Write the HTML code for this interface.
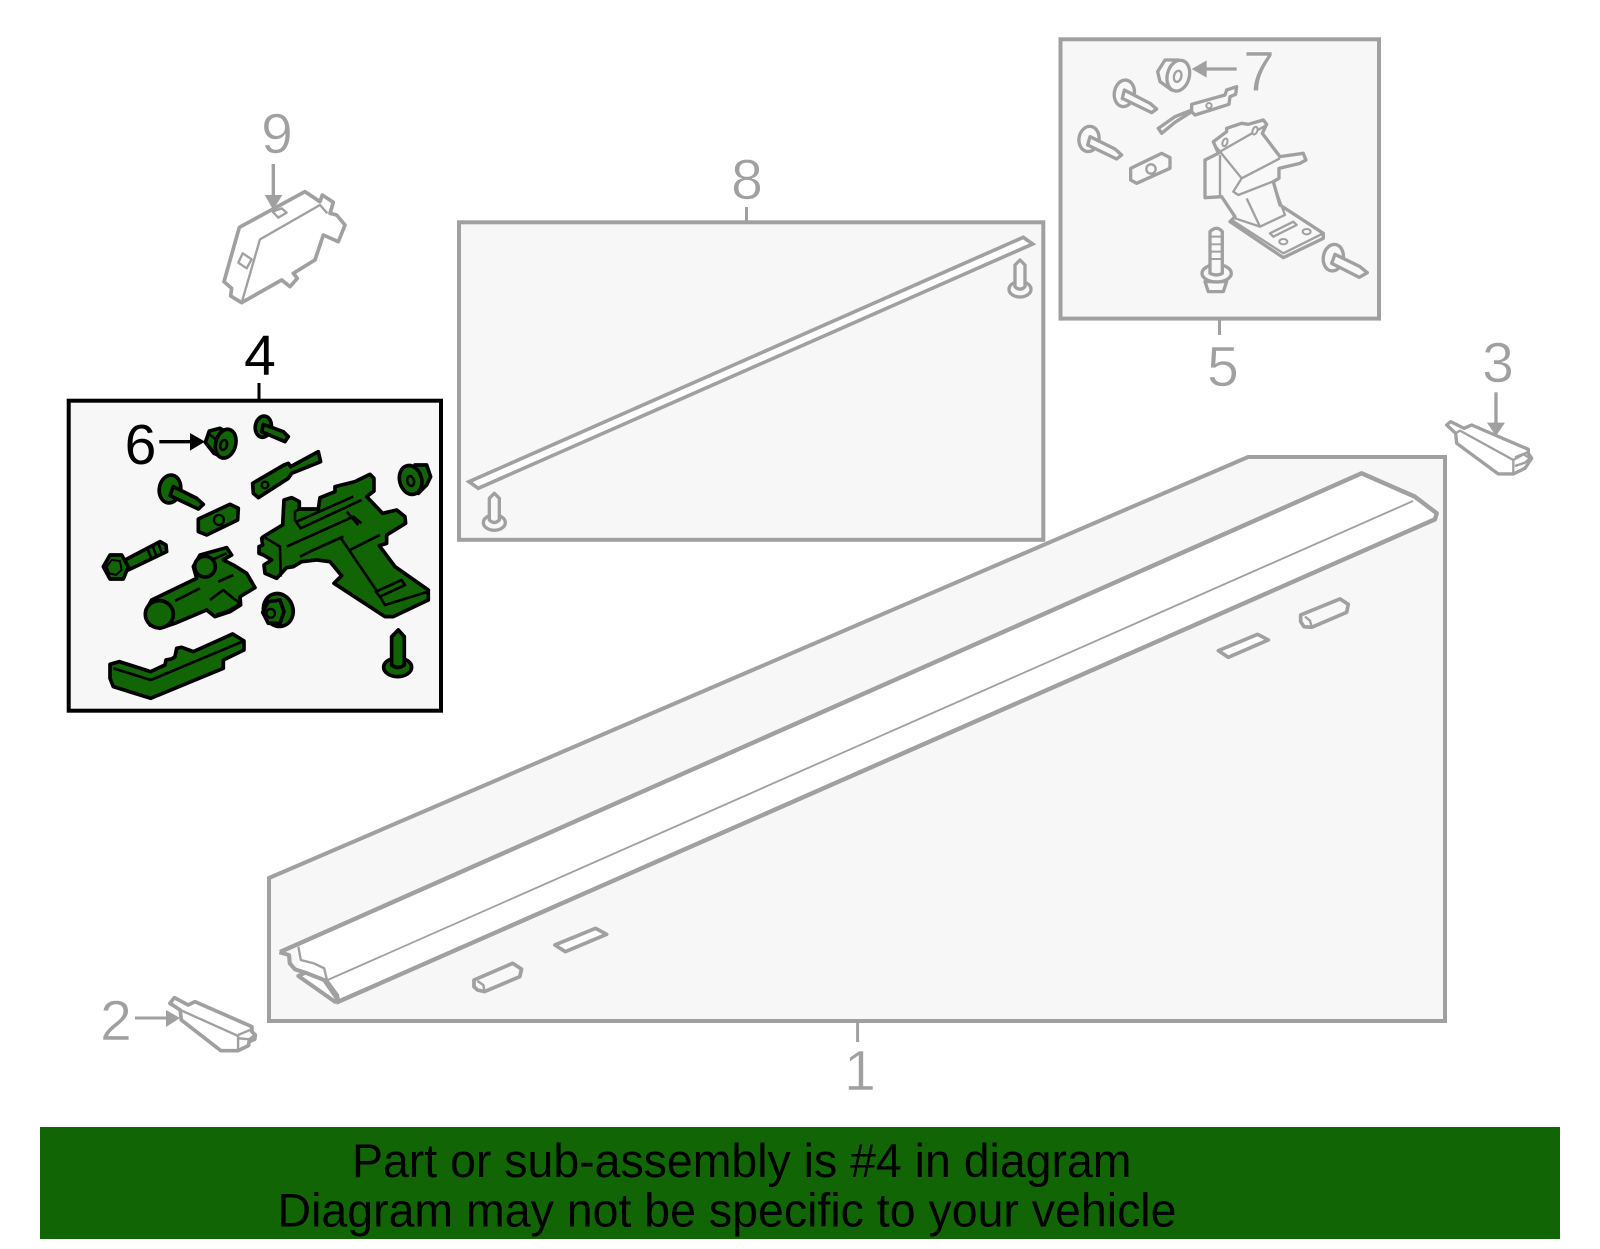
<!DOCTYPE html>
<html>
<head>
<meta charset="utf-8">
<style>
html,body{margin:0;padding:0;background:#fff;width:1600px;height:1249px;overflow:hidden}
svg{display:block}
text{font-family:"Liberation Sans",sans-serif}
.n{font-size:57px;fill:#a0a0a0;text-anchor:middle;stroke:#fff;stroke-width:.6}
.g{fill:#f8f8f8;stroke:#a0a0a0;stroke-width:10;stroke-linejoin:round}
.g .l{fill:none}
.k{fill:#126505;stroke:#000;stroke-width:11;stroke-linejoin:round}
.k .l{fill:none;stroke-width:8}
.w{fill:#fff}
</style>
</head>
<body>
<svg width="1600" height="1249" viewBox="0 0 1600 1249" xmlns="http://www.w3.org/2000/svg">
<rect width="1600" height="1249" fill="#fff"/>

<!-- Box 1 -->
<polygon points="269,878 1248,457 1445,457 1445,1021 269,1021" fill="#f7f7f7" stroke="#a0a0a0" stroke-width="4"/>
<line x1="857.6" y1="1021" x2="857.6" y2="1042" stroke="#a0a0a0" stroke-width="3"/>
<text class="n" x="860" y="1090">1</text>

<!-- Rail -->
<polygon points="296,946 1361.7,473.3 1415,496.7 1436.7,513.3 1435,519.3 336,1002.7 300,975" fill="#fff"/>
<polyline points="280,952 1361.7,473.3 1415,496.7 1436.7,513.3 1435,519.3 336,1002.7" fill="none" stroke="#a0a0a0" stroke-width="4.4" stroke-linejoin="round"/>
<line x1="327.6" y1="980" x2="1413" y2="501" stroke="#a0a0a0" stroke-width="1.8"/>
<g transform="translate(90,900) scale(.3444,.3333)">
 <g class="g" fill="none" style="fill:none">
  <polyline points="550,157 578,165 580,190 595,208 625,218 680,240 720,300" stroke-width="12"/>
  <polyline points="625,218 605,228 715,308" stroke-width="12"/>
  <polyline points="605,140 612,180 650,190 680,205 688,240 720,285 722,300" stroke-width="7"/>
  <path d="M1115,240 L1227,190 L1253,207 L1248,230 L1145,275 L1125,270 L1115,260 Z" style="fill:#f8f8f8" stroke-width="11"/>
  <polyline points="1125,243 1142,255 1145,272" stroke-width="7"/>
  <path d="M1350,135 L1468,85 L1500,103 L1380,155 Z" style="fill:#fff" stroke-width="11"/>
 </g>
 <!-- Part 2 -->
 <g class="g" style="fill:#fff">
  <path d="M232,310 L245,293 L285,315 L305,305 L470,380 L470,395 L480,405 L478,418 L462,425 L460,437 L430,452 L380,452 L265,360 L262,330 Z" stroke-width="11"/>
  <path class="l" d="M262,330 L430,408 L430,450 M430,405 L465,390 L478,405 L462,418 L432,415" stroke-width="7"/>
 </g>
</g>
<g transform="translate(1180,400) scale(.3333)">
 <g class="g">
  <path d="M362,645 L480,597 L505,613 L500,637 L395,682 L372,680 L362,665 Z" stroke-width="11"/>
  <polyline class="l" points="375,650 390,662 395,680" stroke-width="7"/>
  <path d="M115,752 L233,703 L265,720 L145,772 Z" style="fill:#fff" stroke-width="11"/>
 </g>
</g>
<!-- label 2 -->
<text class="n" x="116" y="1040">2</text>
<line x1="135" y1="1018" x2="167" y2="1018" stroke="#a0a0a0" stroke-width="3"/>
<polygon points="166,1010 180,1018 166,1027" fill="#a0a0a0"/>

<!-- Part 3 -->
<g transform="translate(1280,220) scale(.3333)">
 <g class="g" style="fill:#fff">
  <path d="M500,615 L512,605 L552,625 L575,615 L745,688 L745,700 L755,715 L745,730 L735,745 L700,762 L655,762 L530,670 L527,640 Z"/>
  <path class="l" d="M527,640 L540,632 L700,720 L745,695 M700,720 L700,762 M705,712 L730,702 L750,715 L735,728 L705,738" stroke-width="7"/>
 </g>
 <line x1="648" y1="517" x2="648" y2="610" stroke="#a0a0a0" stroke-width="10"/>
 <polygon points="621,608 675,608 648,648" fill="#a0a0a0"/>
</g>
<text class="n" x="1498" y="382">3</text>

<!-- Box 8 -->
<rect x="459" y="222.3" width="584.3" height="317.5" fill="#f7f7f7" stroke="#a0a0a0" stroke-width="4"/>
<line x1="746.5" y1="207" x2="746.5" y2="222" stroke="#a0a0a0" stroke-width="3"/>
<text class="n" x="747" y="199">8</text>
<polygon points="469,481.7 1023.3,237.3 1032.7,244 478.3,488.3" fill="#fff" stroke="#a0a0a0" stroke-width="3.6"/>
<g transform="translate(450,150) scale(.3333)">
 <g class="g">
  <ellipse cx="133" cy="1118" rx="33" ry="23"/>
  <path d="M118,1045 L133,1030 L148,1045 L148,1110 Q133,1125 118,1110 Z"/>
 </g>
</g>
<g transform="translate(900,200) scale(.3333)">
 <g class="g">
  <ellipse cx="360" cy="268" rx="33" ry="23"/>
  <path d="M345,195 L360,180 L375,195 L375,260 Q360,275 345,260 Z"/>
 </g>
</g>

<!-- Box 5 -->
<rect x="1060.5" y="39.3" width="318.5" height="279.3" fill="#f7f7f7" stroke="#a0a0a0" stroke-width="4"/>
<line x1="1219.5" y1="318" x2="1219.5" y2="335" stroke="#a0a0a0" stroke-width="3"/>
<text class="n" x="1223" y="386">5</text>
<text class="n" x="1259" y="91">7</text>
<g transform="translate(1035,35) scale(.3333)">
 <line x1="605" y1="102" x2="510" y2="102" stroke="#a0a0a0" stroke-width="10"/>
 <polygon points="515,76 515,128 470,102" fill="#a0a0a0"/>
 <g class="g">
  <!-- nut -->
  <polygon points="368,110 390,75 430,75 440,100 410,165 375,140"/>
  <ellipse cx="430" cy="122" rx="33" ry="47" transform="rotate(15 430 122)"/>
  <ellipse cx="428" cy="124" rx="11" ry="17" transform="rotate(15 428 124)" stroke-width="7"/>
  <!-- bolts -->
  <ellipse cx="268" cy="175" rx="30" ry="40" transform="rotate(10 268 175)"/>
  <path d="M268,165 L345,205 L365,222 L350,233 L262,190 Z"/>
  <ellipse cx="162" cy="312" rx="30" ry="38" transform="rotate(10 162 312)"/>
  <path d="M165,305 L240,342 L260,360 L245,372 L158,330 Z"/>
  <!-- strap -->
  <path d="M370,280 L420,245 L470,225 L470,208 L570,180 L575,165 L605,155 L602,178 L585,185 L582,208 L480,240 L470,230 L420,262 L380,295 Z"/>
  <circle cx="522" cy="212" r="8" stroke-width="6"/>
  <!-- plate -->
  <polygon points="287,400 380,355 405,368 405,400 305,445 287,435"/>
  <circle cx="348" cy="402" r="14" stroke-width="7"/>
  <!-- bracket -->
  <path d="M535,320 L575,290 L575,280 L620,265 L640,268 L685,255 L695,268 L682,295 L735,365 L805,355 L813,375 L795,385 L732,400 L732,430 L715,440 L735,510 L865,595 L865,610 L745,668 L585,560 L600,545 L560,485 L510,488 L510,375 L550,355 Z"/>
  <path class="l" d="M535,325 L555,350 L695,270 M555,350 L620,430 L595,470 L610,480 L725,435 M620,430 L735,370 M555,360 L555,485 M635,490 L675,575 M715,445 L750,540 L675,575 L600,550 M590,555 L745,655 L865,595" stroke-width="7"/>
  <polygon points="705,595 775,560 785,570 715,605" stroke-width="7"/>
  <ellipse cx="815" cy="590" rx="12" ry="8" stroke-width="6"/>
  <ellipse cx="745" cy="620" rx="12" ry="8" stroke-width="6"/>
  <ellipse cx="570" cy="322" rx="7" ry="12" transform="rotate(20 570 322)" stroke-width="6"/>
  <ellipse cx="660" cy="287" rx="7" ry="12" transform="rotate(20 660 287)" stroke-width="6"/>
  <!-- long bolt -->
  <polygon points="510,740 520,770 565,770 575,740"/>
  <ellipse cx="545" cy="715" rx="44" ry="26"/>
  <path d="M525,590 Q545,570 562,590 L562,715 Q545,725 525,715 Z"/>
  <path class="l" d="M527,605 H560 M527,628 H560 M527,650 H560 M527,672 H560" stroke-width="6"/>
 </g>
</g>
<g transform="translate(1280,220) scale(.3333)">
 <g class="g">
  <ellipse cx="160" cy="113" rx="30" ry="40" transform="rotate(10 160 113)"/>
  <path d="M165,103 L240,140 L262,158 L238,172 L155,130 Z"/>
 </g>
</g>

<!-- Part 9 -->
<g transform="translate(200,170) scale(.3333)">
 <g class="g" style="fill:#fff">
  <path d="M118,172 L315,65 L360,95 L367,75 L400,97 L390,130 L410,135 L435,165 L415,215 L370,195 L345,270 L280,310 L292,325 L270,350 L245,330 L125,398 L92,378 L95,355 L72,335 Z" stroke-width="11"/>
  <path class="l" d="M125,398 L180,208 L360,105 L382,130" stroke-width="7"/>
  <polygon points="218,125 245,115 260,128 235,143" stroke-width="7"/>
  <polygon points="128,250 155,268 140,295 115,278" stroke-width="7"/>
 </g>
 <polygon points="194,75 247,75 220,120" fill="#a0a0a0"/>
</g>
<line x1="273.3" y1="164" x2="273.3" y2="197" stroke="#a0a0a0" stroke-width="3.4"/>
<text class="n" x="277" y="153">9</text>

<!-- Box 4 -->
<rect x="68.7" y="400.7" width="372.3" height="310" fill="#f7f7f7" stroke="#000" stroke-width="4"/>
<line x1="259" y1="383" x2="259" y2="401" stroke="#000" stroke-width="3"/>
<text x="260" y="375" font-size="57" text-anchor="middle" fill="#000">4</text>
<text x="140.5" y="464" font-size="57" text-anchor="middle" fill="#000">6</text>
<g transform="translate(60,385) scale(.3333)">
 <line x1="298" y1="170" x2="395" y2="170" stroke="#000" stroke-width="10"/>
 <polygon points="390,144 390,197 435,170" fill="#000"/>
 <g class="k">
  <!-- top nut -->
  <path d="M436,172 L448,138 L480,130 L505,145 L485,215 L462,205 Z"/>
  <ellipse cx="497" cy="176" rx="30" ry="44" transform="rotate(15 497 176)"/>
  <ellipse cx="491" cy="180" rx="10" ry="15" transform="rotate(15 491 180)" stroke-width="8"/>
  <path class="l" d="M445,145 L470,165 L462,205"/>
  <!-- small bolt -->
  <ellipse cx="610" cy="125" rx="24" ry="32" transform="rotate(10 610 125)"/>
  <path d="M610,118 L670,140 L685,155 L675,170 L605,140 Z"/>
  <!-- bar -->
  <path d="M578,295 L672,240 L685,235 L692,245 L775,200 L782,230 L695,265 L685,280 L595,338 L580,325 Z"/>
  <circle cx="615" cy="300" r="10" stroke-width="7"/>
  <!-- bolt -->
  <ellipse cx="330" cy="312" rx="32" ry="42" transform="rotate(10 330 312)"/>
  <path d="M340,305 L410,340 L430,358 L415,372 L330,332 Z"/>
  <!-- plate -->
  <path d="M415,402 L510,358 L535,370 L533,405 L440,450 L415,440 Z"/>
  <circle cx="477" cy="405" r="15" stroke-width="7"/>
  <!-- long bolt -->
  <path d="M195,525 L300,470 L318,480 L320,500 L205,555 Z"/>
  <path class="l" d="M262,490 L275,522 M278,483 L290,515 M295,476 L306,505" stroke-width="6"/>
  <polygon points="130,545 150,510 185,510 205,545 190,582 150,582"/>
  <polygon points="140,545 155,525 180,528 185,555 168,570 148,565" stroke-width="6"/>
  <!-- main bracket -->
  <path d="M605,460 L610,455 L668,420 L672,345 L695,338 L718,350 L718,372 L775,372 L780,338 L825,320 L825,305 L885,290 L930,268 L942,280 L942,318 L920,335 L968,385 L1010,375 L1035,395 L1037,415 L980,450 L980,475 L958,482 L1005,545 L1105,615 L1105,645 L1000,695 L975,695 L822,595 L845,572 L810,530 L770,525 L725,530 L700,545 L680,548 L650,580 L615,565 L612,540 L635,525 L610,510 L597,505 L597,485 L608,480 Z"/>
  <path class="l" d="M615,458 L660,485 L662,575 M680,485 L880,395 L905,415 M710,410 L880,335 M718,372 L705,380 L705,405 L722,430 L905,345 M840,455 L945,610 L975,660 L1105,620 M870,495 L960,450 M720,515 L760,495 L850,455 M860,380 L895,420"/>
  <polygon points="948,620 1025,585 1035,600 960,635" stroke-width="8"/>
  <!-- handle -->
  <path d="M258,675 L275,645 L410,580 L400,545 L420,510 L500,488 L515,510 L490,525 L520,540 L560,565 L585,608 L540,635 L542,660 L510,680 L465,695 L440,675 L345,715 L300,730 L270,720 Z"/>
  <ellipse cx="298" cy="688" rx="42" ry="41"/>
  <circle cx="435" cy="545" r="31"/>
  <path class="l" d="M345,648 L420,610 M475,590 L520,570 M450,645 L490,615 L520,640 L542,655 M470,688 Q510,680 540,655 M455,525 L500,505"/>
  <!-- lower nut -->
  <ellipse cx="655" cy="675" rx="44" ry="50" transform="rotate(-20 655 675)"/>
  <polygon points="608,682 625,650 660,645 672,680 660,715 625,715"/>
  <circle cx="632" cy="685" r="13" stroke-width="7"/>
  <!-- right nut -->
  <polygon points="1065,240 1100,240 1112,275 1100,300 1075,325 1060,280"/>
  <ellipse cx="1052" cy="285" rx="33" ry="44" transform="rotate(-15 1052 285)"/>
  <ellipse cx="1052" cy="288" rx="10" ry="15" transform="rotate(-15 1052 288)" stroke-width="8"/>
  <!-- lower bracket -->
  <path d="M150,838 L178,830 L272,860 L315,840 L318,825 L335,822 L345,815 L350,790 L365,787 L400,800 L518,747 L552,768 L552,795 L490,825 L490,850 L272,940 L160,905 L150,880 Z"/>
  <path class="l" d="M160,850 L272,885 L552,768"/>
  <!-- pin -->
  <ellipse cx="1013" cy="847" rx="42" ry="28"/>
  <path d="M995,755 L1015,735 L1033,755 L1033,840 Q1015,855 995,840 Z"/>
 </g>
</g>

<!-- Banner -->
<rect x="40" y="1127" width="1520" height="112" fill="#126505"/>
<text x="352" y="1177" font-size="47" fill="#000" textLength="779.5" lengthAdjust="spacingAndGlyphs">Part or sub-assembly is #4 in diagram</text>
<text x="277.5" y="1226.5" font-size="47" fill="#000" textLength="899" lengthAdjust="spacingAndGlyphs">Diagram may not be specific to your vehicle</text>
</svg>
</body>
</html>
